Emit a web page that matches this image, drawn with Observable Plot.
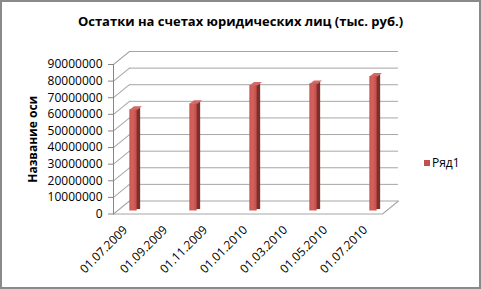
<!DOCTYPE html>
<html>
<head>
<meta charset="utf-8">
<script src="https://cdn.jsdelivr.net/npm/d3@7"></script>
<script src="https://cdn.jsdelivr.net/npm/@observablehq/plot@0.6"></script>
<style>
  html, body { margin: 0; padding: 0; background: #fff; }
  #chart { position: relative; width: 481px; height: 289px; overflow: hidden; font-family: "Open Sans", sans-serif; }
  #frame { position: absolute; left: 0; top: 0; width: 481px; height: 289px; box-sizing: border-box; border: 2px solid #8a8a8a; pointer-events: none; }
  #title { position: absolute; left: 0; top: 12px; width: 481px; text-align: center; font-weight: bold; font-size: 13px; color: #000; }
  #plot { position: absolute; left: 0; top: 40px; }
  #legend { position: absolute; left: 424px; top: 154px; font-size: 12px; color: #000; display: flex; align-items: center; }
  #legend .sw { width: 6px; height: 6px; background: #c0504d; margin-right: 2px; }
</style>
</head>
<body>
<div id="chart">
  <div id="title">Остатки на счетах юридических лиц (тыс. руб.)</div>
  <div id="plot"></div>
  <div id="legend"><span class="sw"></span><span>Ряд1</span></div>
  <div id="frame"></div>
</div>
<script>
// Month categories of the date axis
const months = ["01.07.2009","01.08.2009","01.09.2009","01.10.2009","01.11.2009","01.12.2009",
                "01.01.2010","01.02.2010","01.03.2010","01.04.2010","01.05.2010","01.06.2010","01.07.2010"];
// Tick labels shown on the x axis
const tickLabels = ["01.07.2009","01.09.2009","01.11.2009","01.01.2010","01.03.2010","01.05.2010","01.07.2010"];
// Series "Ряд1"
const barDates = ["01.07.2009","01.10.2009","01.01.2010","01.04.2010","01.07.2010"];
const barValues = [61000000, 64500000, 75500000, 76500000, 81000000];
// Y ticks
const yTicks = [0,10000000,20000000,30000000,40000000,50000000,60000000,70000000,80000000,90000000];

const data = barDates.map((d, i) => ({date: d, value: barValues[i]}));

const lineShape = {draw(ctx, l) { ctx.moveTo(0, 0); ctx.lineTo(0, -l); }};
const topShape = {draw(ctx) { ctx.moveTo(0, 0); ctx.lineTo(8, 0); ctx.lineTo(12.5, -3.5); ctx.lineTo(4.5, -3.5); ctx.closePath(); }};

const gridColor = "#a6a6a6";
const axisColor = "#868686";

const chart = Plot.plot({
  width: 481,
  height: 249,
  marginTop: 24,
  marginBottom: 75.5,
  marginLeft: 113,
  marginRight: 99,
  style: {fontFamily: "Open Sans, sans-serif", fontSize: "12px", color: "#000", background: "transparent", overflow: "visible"},
  x: {type: "band", domain: months, padding: 0},
  y: {domain: [0, 90000000]},
  marks: [
    // back wall gridlines
    Plot.ruleY(yTicks, {dx: 16, dy: -13, stroke: gridColor, strokeWidth: 1}),
    // side wall diagonals
    Plot.vector(yTicks, {y: d => d, frameAnchor: "left", length: 20.6, rotate: 50.9, anchor: "start", shape: lineShape, stroke: gridColor, strokeWidth: 1}),
    // floor right edge and front edge
    Plot.vector([0], {y: d => d, frameAnchor: "right", length: 20.6, rotate: 50.9, anchor: "start", shape: lineShape, stroke: gridColor, strokeWidth: 1}),
    Plot.ruleY([0], {stroke: gridColor, strokeWidth: 1}),
    // front vertical axis line
    Plot.frame({anchor: "left", stroke: axisColor}),
    // bar side faces
    Plot.barY(data, {x: "date", y: "value", insetLeft: 7.85, insetRight: 7.85, dx: 10, dy: -4.5, fill: "#7d2e2c"}),
    // bar top faces
    Plot.vector(data, {x: "date", y: "value", length: 1, anchor: "start", dx: 1, dy: -3, shape: topShape, fill: "#d06a66", stroke: "none"}),
    // bar front faces
    Plot.barY(data, {x: "date", y: "value", insetLeft: 6.35, insetRight: 6.35, dx: 5, dy: -3, fill: "url(#barGrad)"}),
    Plot.axisY(yTicks, {tickSize: 5, tickPadding: 6, tickFormat: d3.format("d"), stroke: axisColor, fill: "#000", label: null}),
    Plot.axisX(tickLabels, {tickSize: 0, tickPadding: 14, dx: -3, tickRotate: -45, fill: "#000", label: null}),
    Plot.text(["Название оси"], {frameAnchor: "left", textAnchor: "middle", rotate: -90, dx: -80, fontWeight: "bold", fontSize: 12, fill: "#000"})
  ]
});

const svg = d3.select(chart);
const defs = svg.insert("defs", ":first-child");
const g = defs.append("linearGradient").attr("id", "barGrad").attr("x1", "0").attr("x2", "1").attr("y1", "0").attr("y2", "0");
g.append("stop").attr("offset", "0%").attr("stop-color", "#c85450");
g.append("stop").attr("offset", "40%").attr("stop-color", "#d6625e");
g.append("stop").attr("offset", "100%").attr("stop-color", "#c24f4b");

document.getElementById("plot").appendChild(chart);
</script>
</body>
</html>
